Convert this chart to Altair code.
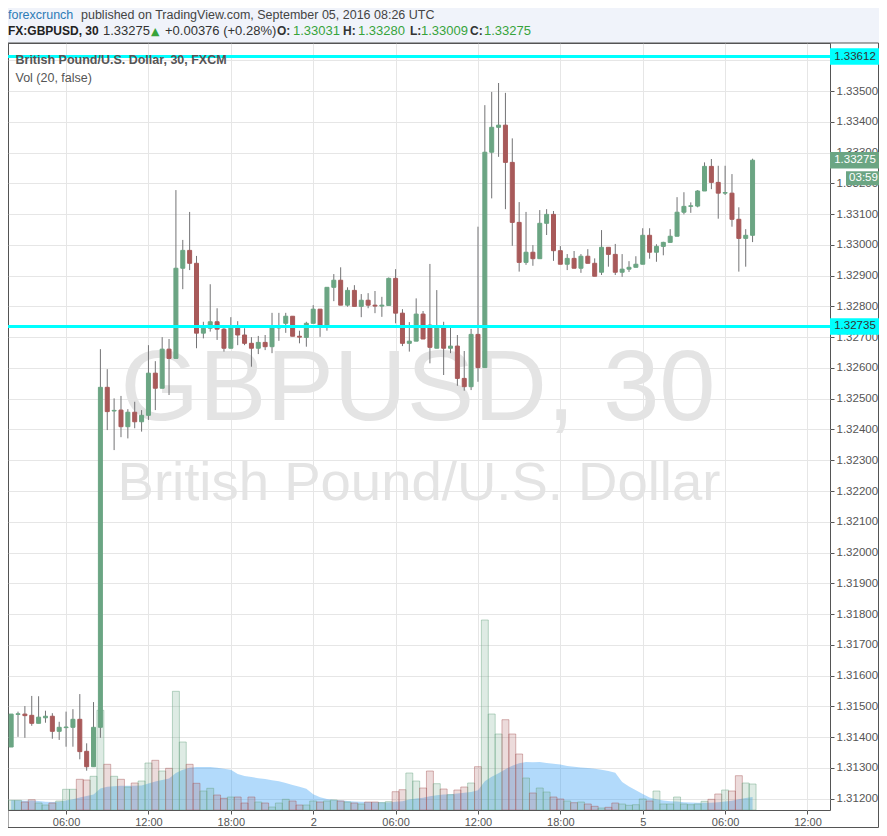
import altair as alt
import pandas as pd

# ---- data (30-minute bars, index 0 = Sep 1 02:00 UTC) ----
opens = [1.31368, 1.31474, 1.31475, 1.31471, 1.31445, 1.31463, 1.31468, 1.31419, 1.31431, 1.31432,
         1.31458, 1.31354, 1.31304, 1.31432, 1.32537, 1.32460, 1.32463, 1.32409, 1.32456, 1.32425,
         1.32446, 1.32583, 1.32534, 1.32661, 1.32631, 1.32924, 1.32982, 1.32940, 1.32713, 1.32729,
         1.32750, 1.32726, 1.32664, 1.32736, 1.32707, 1.32680, 1.32664, 1.32683, 1.32669, 1.32730,
         1.32745, 1.32768, 1.32703, 1.32699, 1.32745, 1.32791, 1.32732, 1.32862, 1.32885, 1.32804,
         1.32852, 1.32800, 1.32820, 1.32804, 1.32801, 1.32803, 1.32891, 1.32778, 1.32680, 1.32687,
         1.32775, 1.32739, 1.32664, 1.32734, 1.32664, 1.32671, 1.32566, 1.32539, 1.32709, 1.32601,
         1.33301, 1.33382, 1.33389, 1.33268, 1.33073, 1.32943, 1.32976, 1.32955, 1.33070, 1.33099,
         1.32981, 1.32937, 1.32956, 1.32924, 1.32963, 1.32940, 1.32911, 1.32992, 1.32969, 1.32911,
         1.32921, 1.32927, 1.32937, 1.33031, 1.32976, 1.32995, 1.33008, 1.33028, 1.33106, 1.33125,
         1.33126, 1.33175, 1.33255, 1.33203, 1.33168, 1.33168, 1.33083, 1.33021, 1.33031]
highs = [1.31475, 1.31483, 1.31501, 1.31534, 1.31533, 1.31486, 1.31478, 1.31450, 1.31483, 1.31491,
         1.31540, 1.31380, 1.31514, 1.32661, 1.32596, 1.32501, 1.32509, 1.32466, 1.32490, 1.32463,
         1.32674, 1.32622, 1.32700, 1.32694, 1.33178, 1.33016, 1.33107, 1.32964, 1.32750, 1.32872,
         1.32794, 1.32734, 1.32765, 1.32752, 1.32729, 1.32700, 1.32704, 1.32707, 1.32779, 1.32779,
         1.32779, 1.32768, 1.32721, 1.32750, 1.32804, 1.32791, 1.32862, 1.32905, 1.32927, 1.32862,
         1.32869, 1.32840, 1.32843, 1.32850, 1.32831, 1.32894, 1.32921, 1.32791, 1.32749, 1.32826,
         1.32785, 1.32938, 1.32853, 1.32750, 1.32734, 1.32707, 1.32655, 1.32727, 1.33059, 1.33454,
         1.33497, 1.33526, 1.33494, 1.33346, 1.33139, 1.33107, 1.32999, 1.33113, 1.33116, 1.33110,
         1.32996, 1.32970, 1.32980, 1.32970, 1.32986, 1.32956, 1.33048, 1.32992, 1.33003, 1.32970,
         1.32947, 1.32963, 1.33054, 1.33054, 1.33002, 1.33010, 1.33051, 1.33155, 1.33171, 1.33138,
         1.33178, 1.33268, 1.33279, 1.33257, 1.33257, 1.33230, 1.33122, 1.33051, 1.33280]
lows = [1.31368, 1.31401, 1.31398, 1.31437, 1.31445, 1.31447, 1.31395, 1.31391, 1.31369, 1.31369,
        1.31328, 1.31291, 1.31304, 1.31398, 1.32398, 1.32333, 1.32375, 1.32371, 1.32404, 1.32393,
        1.32431, 1.32463, 1.32534, 1.32512, 1.32631, 1.32856, 1.32918, 1.32664, 1.32696, 1.32718,
        1.32691, 1.32653, 1.32664, 1.32674, 1.32674, 1.32604, 1.32645, 1.32658, 1.32648, 1.32688,
        1.32714, 1.32703, 1.32680, 1.32669, 1.32745, 1.32701, 1.32721, 1.32817, 1.32804, 1.32799,
        1.32800, 1.32765, 1.32794, 1.32778, 1.32766, 1.32803, 1.32745, 1.32671, 1.32653, 1.32687,
        1.32694, 1.32615, 1.32664, 1.32577, 1.32648, 1.32542, 1.32526, 1.32528, 1.32555, 1.32601,
        1.33151, 1.33286, 1.33116, 1.32997, 1.32913, 1.32935, 1.32932, 1.32955, 1.33032, 1.32948,
        1.32937, 1.32918, 1.32924, 1.32909, 1.32940, 1.32898, 1.32902, 1.32929, 1.32902, 1.32896,
        1.32912, 1.32927, 1.32937, 1.32955, 1.32945, 1.32966, 1.33008, 1.33028, 1.33099, 1.33104,
        1.33122, 1.33175, 1.33181, 1.33085, 1.33162, 1.33059, 1.32913, 1.32929, 1.33009]
closes = [1.31475, 1.31476, 1.31470, 1.31445, 1.31465, 1.31468, 1.31419, 1.31432, 1.31433, 1.31458,
          1.31353, 1.31304, 1.31432, 1.32537, 1.32458, 1.32462, 1.32409, 1.32456, 1.32425, 1.32446,
          1.32583, 1.32534, 1.32661, 1.32631, 1.32924, 1.32982, 1.32940, 1.32713, 1.32729, 1.32750,
          1.32726, 1.32664, 1.32736, 1.32707, 1.32680, 1.32664, 1.32683, 1.32669, 1.32732, 1.32734,
          1.32768, 1.32703, 1.32700, 1.32745, 1.32791, 1.32732, 1.32862, 1.32885, 1.32804, 1.32852,
          1.32800, 1.32820, 1.32804, 1.32801, 1.32804, 1.32891, 1.32778, 1.32680, 1.32687, 1.32775,
          1.32694, 1.32667, 1.32736, 1.32664, 1.32671, 1.32566, 1.32539, 1.32709, 1.32601, 1.33301,
          1.33382, 1.33389, 1.33268, 1.33073, 1.32943, 1.32976, 1.32955, 1.33070, 1.33099, 1.32981,
          1.32937, 1.32956, 1.32924, 1.32963, 1.32940, 1.32898, 1.32992, 1.32969, 1.32911, 1.32921,
          1.32927, 1.32937, 1.33031, 1.32976, 1.32995, 1.33008, 1.33028, 1.33106, 1.33125, 1.33127,
          1.33175, 1.33255, 1.33203, 1.33168, 1.33170, 1.33083, 1.33021, 1.33031, 1.33275]
volumes = [97, 97, 80, 103, 70, 50, 70, 90, 207, 207,
           307, 300, 337, 997, 457, 337, 307, 230, 270, 290,
           470, 497, 390, 417, 1187, 680, 457, 267, 190, 217,
           150, 117, 130, 130, 70, 130, 80, 70, 30, 70,
           107, 90, 50, 50, 90, 80, 90, 100, 90, 80,
           70, 60, 80, 80, 73, 83, 183, 203, 370, 290,
           220, 390, 263, 210, 153, 200, 230, 270, 433, 1900,
           960, 760, 903, 760, 560, 320, 170, 220, 180, 130,
           110, 90, 73, 80, 60, 37, 20, 27, 70, 60,
           47, 53, 110, 90, 190, 60, 60, 130, 60, 53,
           60, 87, 107, 160, 200, 190, 343, 270, 260]

x_tick_pos = [8, 20, 32, 44, 56, 68, 80, 92, 104, 116]
x_tick_labels = ["06:00", "12:00", "18:00", "2", "06:00", "12:00", "18:00", "5", "06:00", "12:00"]
y_ticks = [round(1.312 + 0.001 * i, 3) for i in range(25)]
level_prices = [1.33612, 1.32735]
last_price = [1.33275]
countdown = "03:59"

n = len(opens)
df = pd.DataFrame({
    "k": list(range(n)),
    "open": opens, "high": highs, "low": lows, "close": closes,
    "vol": volumes,
})
df["dir"] = ["up" if c >= o else "down" for o, c in zip(opens, closes)]

# ---- layout ----
W, H = 822, 767
FONT = "Liberation Sans"
xs = alt.Scale(domain=[0.27, 118.55], nice=False, zero=False)
ys = alt.Scale(domain=[1.311633, 1.33656], nice=False, zero=False)
vs = alt.Scale(domain=[0, 7670], nice=False, zero=False)

lab_expr = "''"
for pos, lab in reversed(list(zip(x_tick_pos, x_tick_labels))):
    lab_expr = f"datum.value == {pos} ? '{lab}' : {lab_expr}"

x_axis = alt.Axis(values=x_tick_pos, labelExpr=lab_expr, grid=True, gridColor="#E6E6E6",
                  tickSize=4, tickColor="#555555", labelColor="#555555", labelFontSize=11,
                  labelFont=FONT, domain=False, labelPadding=2, title=None, labelOverlap=False)
y_axis = alt.Axis(orient="right", values=y_ticks,
                  labelExpr="datum.value > 1.3355 ? '' : format(datum.value, '.5f')",
                  grid=True, gridColor="#E6E6E6", tickSize=4, tickColor="#555555",
                  labelColor="#555555", labelFontSize=11.5, labelFont=FONT, domain=False,
                  labelPadding=2, title=None, labelOverlap=False)


def X():
    return alt.X("k:Q", scale=xs, axis=x_axis)


one = pd.DataFrame({"a": [0]})


def txt(s, x, y, size=13, color="#333333", weight="normal", font=FONT, align="left",
        baseline="alphabetic"):
    return alt.Chart(one).mark_text(text=s, align=align, baseline=baseline, font=font,
                                    fontSize=size, fontWeight=weight, color=color).encode(
        x=alt.value(x), y=alt.value(y))


def box(x, x2, y, y2, fill):
    return alt.Chart(one).mark_rect(color=fill).encode(
        x=alt.value(x), x2=alt.value(x2), y=alt.value(y), y2=alt.value(y2))


GREY = "#F0F3FA"
bg_top = box(-20, 900, -60, 0, GREY)
outer = alt.Chart(one).mark_rect(fillOpacity=0, stroke="#555555", strokeWidth=1).encode(
    x=alt.value(0), x2=alt.value(870.5), y=alt.value(0), y2=alt.value(784.5))

# watermark
wm1 = txt("GBPUSD, 30", 410, 377, size=101, color="#E4E4E4", align="center")
wm2 = txt("British Pound/U.S. Dollar", 411, 457, size=54.5, color="#E4E4E4", align="center")

# volume + MA
vol_ma = alt.Chart(df).transform_window(
    ma="mean(vol)", frame=[-19, 0], sort=[alt.SortField("k")]
).mark_area(color="#2196F3", opacity=0.35, clip=True).encode(
    x=X(),
    y=alt.Y("ma:Q", scale=vs, axis=None),
)
vol_bars = alt.Chart(df).mark_bar(size=6.95, strokeWidth=1, fillOpacity=0.22,
                                  strokeOpacity=0.45, clip=True).encode(
    x=X(),
    y=alt.Y("vol:Q", scale=vs, axis=None),
    color=alt.Color("dir:N", scale=alt.Scale(domain=["up", "down"], range=["#6BA583", "#A85A5A"]),
                    legend=None),
    stroke=alt.Stroke("dir:N", scale=alt.Scale(domain=["up", "down"], range=["#6BA583", "#A85A5A"]),
                      legend=None),
)

# candles
wicks = alt.Chart(df).mark_rule(color="#737375", strokeWidth=1, clip=True).encode(
    x=X(),
    y=alt.Y("low:Q", scale=ys, axis=y_axis),
    y2="high:Q",
)
bodies = alt.Chart(df).mark_bar(size=4, strokeWidth=1, clip=True).encode(
    x=X(),
    y=alt.Y("open:Q", scale=ys, axis=None),
    y2="close:Q",
    color=alt.Color("dir:N", scale=alt.Scale(domain=["up", "down"], range=["#6BA583", "#D75442"]),
                    legend=None),
    stroke=alt.Stroke("dir:N", scale=alt.Scale(domain=["up", "down"], range=["#225437", "#5B1A13"]),
                      legend=None),
)

levels = pd.DataFrame({"price": level_prices})
lines = alt.Chart(levels).mark_rule(color="#00FFFF", strokeWidth=3).encode(
    y=alt.Y("price:Q", scale=ys, axis=None), x=alt.value(0), x2=alt.value(824))
level_box = alt.Chart(levels).mark_point(shape="M-1,-0.33H1V0.33H-1Z", size=2500, filled=True,
                                         color="#00FFFF", opacity=1, strokeWidth=0).encode(
    y=alt.Y("price:Q", scale=ys, axis=None), x=alt.value(847))
level_txt = alt.Chart(levels).mark_text(font=FONT, fontSize=11.5, color="#333333").encode(
    y=alt.Y("price:Q", scale=ys, axis=None), x=alt.value(847),
    text=alt.Text("price:Q", format=".5f"))

last = pd.DataFrame({"price": last_price})
last_box = alt.Chart(last).mark_point(shape="M-1,-0.33H1V0.33H-1Z", size=2500, filled=True,
                                      color="#6BA583", opacity=1, strokeWidth=0).encode(
    y=alt.Y("price:Q", scale=ys, axis=None), x=alt.value(847))
last_txt = alt.Chart(last).mark_text(font=FONT, fontSize=11.5, color="white").encode(
    y=alt.Y("price:Q", scale=ys, axis=None), x=alt.value(847),
    text=alt.Text("price:Q", format=".5f"))
cd_box = alt.Chart(last).mark_point(shape="M-1,0.63H1V1.43H-1Z", size=1225, filled=True,
                                    color="#6BA583", opacity=1, strokeWidth=0).encode(
    y=alt.Y("price:Q", scale=ys, axis=None), x=alt.value(855.5))
cd_txt = alt.Chart(last).mark_text(text=countdown, font=FONT, fontSize=11.5, color="white",
                                   dy=18).encode(
    y=alt.Y("price:Q", scale=ys, axis=None), x=alt.value(855.5))

# header + legend texts
GREEN = "#37A33A"
L1 = -24
L2 = -8.5
header = [
    txt("forexcrunch", 0, L1, size=12.5, color="#2E7BB6"),
    txt("published on TradingView.com, September 05, 2016 08:26 UTC", 73, L1, size=12.5,
        color="#444444"),
    txt("FX:GBPUSD, 30", 0, L2, size=12, weight="bold", color="#222222"),
    txt("1.33275", 95, L2, color="#333333"),
    txt("▲", 143, L2, size=11, color=GREEN, font="DejaVu Sans"),
    txt("+0.00376 (+0.28%)", 157, L2, color="#333333"),
    txt("O:", 269, L2, size=12, weight="bold", color="#333333"),
    txt("1.33031", 285, L2, color=GREEN),
    txt("H:", 335, L2, size=12, weight="bold", color="#333333"),
    txt("1.33280", 350, L2, color=GREEN),
    txt("L:", 402, L2, size=12, weight="bold", color="#333333"),
    txt("1.33009", 413, L2, color=GREEN),
    txt("C:", 462, L2, size=12, weight="bold", color="#333333"),
    txt("1.33275", 476, L2, color=GREEN),
    txt("British Pound/U.S. Dollar, 30, FXCM", 7.5, 21.3, size=12.5, weight="bold",
        color="#555555"),
    txt("Vol (20, false)", 7.5, 38.7, size=12.5, color="#555555"),
]

chart = alt.layer(
    bg_top, outer,
    wm1, wm2,
    vol_ma, vol_bars,
    wicks, bodies,
    lines, level_box, level_txt, last_box, last_txt, cd_box, cd_txt,
    *header,
).resolve_scale(y="independent").properties(
    width=W, height=H,
    autosize=alt.AutoSizeParams(type="none"),
    padding={"left": 0, "top": 35, "right": 49, "bottom": 18},
    background="white",
).configure_view(stroke="#555555", strokeWidth=1, fill="white")

chart.save("out.html", embed_options={"renderer": "svg", "actions": False})
